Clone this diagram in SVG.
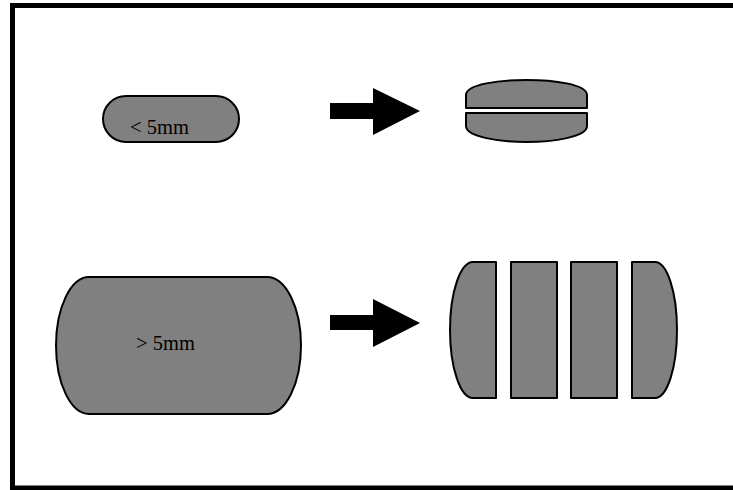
<svg xmlns="http://www.w3.org/2000/svg" width="733" height="490" viewBox="0 0 733 490">
<style>
.shape{fill:#808080;stroke:#000;stroke-width:2;stroke-linejoin:round}
.arrow{fill:#000;stroke:none}
.lbl{font-family:"Liberation Serif","Times New Roman",serif;font-size:20.5px;fill:#000}
</style>
<rect x="12.5" y="5.5" width="730" height="482.5" fill="#fff" stroke="#000" stroke-width="5"/>
<g id="small">
<rect class="shape" x="103" y="96" width="136" height="46" rx="23" ry="23"/>
<text class="lbl" x="130" y="133.5">&lt; 5mm</text>
</g>
<g id="small-split">
<path class="shape" d="M466,108 V95 C466,84 500,80 526.5,80 C553,80 587,84 587,95 V108 Z"/>
<path class="shape" d="M466,113 V126 C466,137 500,142 526.5,142 C553,142 587,137 587,126 V113 Z"/>
</g>
<g id="large">
<path class="shape" d="M89,277 H267 A34,68.5 0 0 1 267,414 H89 A33,68.5 0 0 1 89,277 Z"/>
<text class="lbl" x="136" y="350">&gt; 5mm</text>
</g>
<g id="large-sliced">
<path class="shape" d="M473,262 H496 V398 H473 A23,68 0 0 1 473,262 Z"/>
<rect class="shape" x="511" y="262" width="46" height="136"/>
<rect class="shape" x="571" y="262" width="46" height="136"/>
<path class="shape" d="M632,262 H655 A22,68 0 0 1 655,398 H632 Z"/>
</g>
<g id="connectors">
<path class="arrow" d="M330,103 H373 V88 L420,111 L373,135 V119 H330 Z"/>
<path class="arrow" d="M330,315 H373 V299 L420,323 L373,347 V330 H330 Z"/>
</g>
</svg>
